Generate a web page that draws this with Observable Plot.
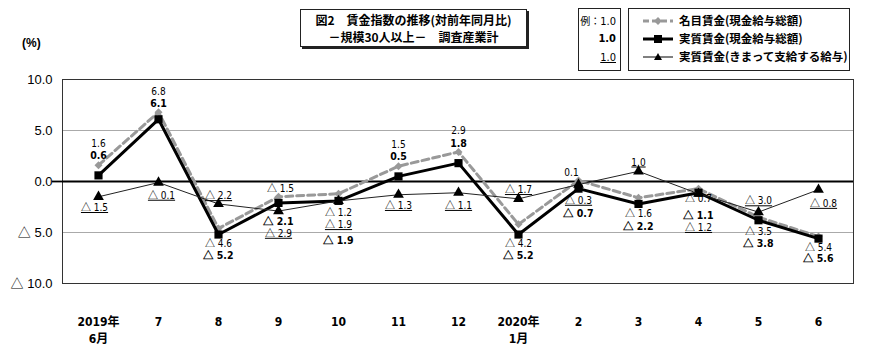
<!DOCTYPE html>
<html><head><meta charset="utf-8">
<script src="https://cdn.jsdelivr.net/npm/d3@7"></script>
<script src="https://cdn.jsdelivr.net/npm/@observablehq/plot@0.6"></script>
<style>
@font-face{font-family:"TriCJK";src:local("Noto Sans CJK JP"),local("Noto Sans CJK JP Regular"),local("NotoSansCJKjp-Regular"),local("NotoSansCJKJP-Regular");unicode-range:U+25B3;}
body{margin:0;background:#fff;font-family:"Noto Sans CJK JP",sans-serif;}
#wrap{position:relative;width:890px;height:359px;overflow:hidden;}
#wrap svg.plot{position:absolute;left:0;top:0;}
.box{position:absolute;background:#fff;border:1px solid #222;box-sizing:border-box;}
.title{left:300px;top:9px;width:227px;height:38px;box-shadow:2px 2px 0 #222;font-size:12px;font-weight:bold;line-height:17px;text-align:center;padding-top:1px;}
.ex{left:578px;top:8px;width:43px;height:63px;font-family:"Liberation Sans Narrow","DejaVu Sans Condensed","Liberation Sans",sans-serif;font-size:11px;}
.ex div{position:absolute;right:4px;}
.leg{left:628px;top:8px;width:222px;height:63px;}
.leg svg{position:absolute;left:0;top:0;}
.unit{position:absolute;left:22px;top:36px;font-size:12px;font-weight:bold;font-family:"Liberation Sans",sans-serif;}
</style></head>
<body><div id="wrap"></div>
<script>
const months = ["2019-06","2019-07","2019-08","2019-09","2019-10","2019-11","2019-12","2020-01","2020-02","2020-03","2020-04","2020-05","2020-06"];
const monthLabels = ["2019年\n6月","7","8","9","10","11","12","2020年\n1月","2","3","4","5","6"];
const nominal = [1.6, 6.8, -4.6, -1.5, -1.2, 1.5, 2.9, -4.2, 0.1, -1.6, -0.7, -3.5, -5.4];
const realTotal = [0.6, 6.1, -5.2, -2.1, -1.9, 0.5, 1.8, -5.2, -0.7, -2.2, -1.1, -3.8, -5.6];
const realScheduled = [-1.5, -0.1, -2.2, -2.9, -1.9, -1.3, -1.1, -1.7, -0.3, 1.0, -1.2, -3.0, -0.8];
const yTicks = [10, 5, 0, -5, -10];
const seriesNames = ["名目賃金(現金給与総額)", "実質賃金(現金給与総額)", "実質賃金(きまって支給する給与)"];

// label placement (pixel offsets from each point)
const nominalDy = [-21,-20,15,-8,19,-21,-21,19,-8,16,10,15,11];
const nominalDx = [0,0,0,2,0,0,0,0,-7,0,0,0,0];
const realDy = [-20,-16,21,19,40,-20,-20,21,25,23,23,23,20];
const schedDy = [11,13,-8,22.5,24,11,13,-9,16,-9,34,-11,14];
const schedDx = [-4,3,0,0,0,0,0,0,0,0,0,0,5];

const fmt = v => v < 0 ? "△ " + Math.abs(v).toFixed(1) : v.toFixed(1);
const rows = (vals, dy, dx) => months.map((m, i) => ({m, v: vals[i], dy: dy[i], dx: dx ? dx[i] : 0}));
const nomRows = rows(nominal, nominalDy, nominalDx);
const realRows = rows(realTotal, realDy);
const schedRows = rows(realScheduled, schedDy, schedDx);

const labelFont = '"TriCJK","Liberation Sans Narrow","DejaVu Sans Condensed","Liberation Sans","Noto Sans CJK JP",sans-serif';
function labels(data, opts) {
  return data.map(d => Plot.text([d], {x: "m", y: "v", text: t => fmt(t.v), dy: d.dy, dx: d.dx,
    fontSize: 10, fontFamily: labelFont, fill: "#000", ...opts}));
}

const chart = Plot.plot({
  width: 890, height: 359,
  marginLeft: 62, marginRight: 37, marginTop: 79, marginBottom: 76,
  style: {fontFamily: '"Liberation Sans","Noto Sans CJK JP",sans-serif', background: "transparent"},
  x: {type: "point", domain: months, padding: 0.5, label: null},
  y: {domain: [-10, 10], label: null},
  marks: [
    Plot.ruleY([5, -5], {stroke: "#aaa", strokeWidth: 1}),
    Plot.frame({stroke: "#333", strokeWidth: 1}),
    Plot.ruleY([0], {stroke: "#000", strokeWidth: 1.8}),
    Plot.axisY({ticks: yTicks, tickSize: 0, tickPadding: 10, tickFormat: fmt, fontSize: 13, fill: "#000", label: null}),
    Plot.axisY({ticks: [0], tickSize: 10, tickFormat: () => "", stroke: "#000", strokeWidth: 1.8, label: null}),
    Plot.axisX({tickSize: 0, tickPadding: 31, tickFormat: d => monthLabels[months.indexOf(d)], fontSize: 12, lineHeight: 1.4, fontWeight: "bold", fontFamily: labelFont, fill: "#000", label: null}),
    Plot.line(nomRows, {x: "m", y: "v", stroke: "#999", strokeWidth: 3, strokeDasharray: "7,4"}),
    Plot.dot(nomRows, {x: "m", y: "v", symbol: "diamond2", r: 3.6, fill: "#999", stroke: "none"}),
    Plot.line(realRows, {x: "m", y: "v", stroke: "#000", strokeWidth: 3}),
    Plot.dot(realRows, {x: "m", y: "v", symbol: "square", r: 4.6, fill: "#000", stroke: "none"}),
    Plot.line(schedRows, {x: "m", y: "v", stroke: "#222", strokeWidth: 1}),
    Plot.dot(schedRows, {x: "m", y: "v", symbol: "triangle", r: 4, fill: "#000", stroke: "none"}),
    ...labels(nomRows, {}),
    ...labels(realRows, {fontWeight: "bold", fontSize: 10.5}),
    ...labels(schedRows, {fill: "#010101"})
  ]
});
chart.classList.add("plot");
const wrap = document.getElementById("wrap");
wrap.appendChild(chart);
d3.select(chart).selectAll('[fill="#010101"] text, text[fill="#010101"]').style("text-decoration", "underline");

wrap.insertAdjacentHTML("beforeend", `
<div class="unit">(%)</div>
<div class="box title"><div>図2　賃金指数の推移(対前年同月比)</div><div>－規模30人以上－　調査産業計</div></div>
<div class="box ex">
  <div style="top:4px;right:4px;"><span style="font-family:'Noto Sans CJK JP';font-size:10px;">例：</span>1.0</div>
  <div style="top:23px;font-weight:bold;">1.0</div>
  <div style="top:42px;text-decoration:underline;">1.0</div>
</div>
<div class="box leg">
  <svg width="222" height="63">
    <g transform="translate(0,12)">
      <line x1="14" x2="44" y1="0" y2="0" stroke="#999" stroke-width="3" stroke-dasharray="6,3"/>
      <path d="M29,-4 L33,0 L29,4 L25,0 Z" fill="#999"/>
    </g>
    <g transform="translate(0,30)">
      <line x1="14" x2="44" y1="0" y2="0" stroke="#000" stroke-width="3"/>
      <rect x="25" y="-4" width="8" height="8" fill="#000"/>
    </g>
    <g transform="translate(0,48)">
      <line x1="14" x2="44" y1="0" y2="0" stroke="#000" stroke-width="1"/>
      <path d="M29,-4 L33,3 L25,3 Z" fill="#000"/>
    </g>
    <g font-family="Noto Sans CJK JP" font-size="11.5" font-weight="bold" fill="#000">
      <text x="50" y="16">${seriesNames[0]}</text>
      <text x="50" y="34">${seriesNames[1]}</text>
      <text x="50" y="52">${seriesNames[2]}</text>
    </g>
  </svg>
</div>`);
</script>
</body></html>
